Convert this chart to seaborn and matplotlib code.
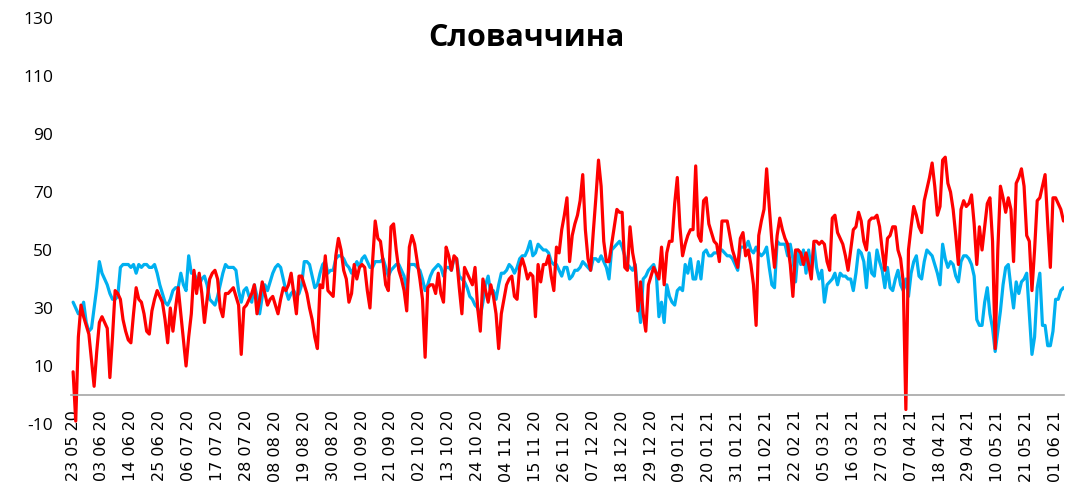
import matplotlib
matplotlib.use("Agg")
import matplotlib.pyplot as plt
import numpy as np
import pandas as pd
import seaborn as sns

# Daily values, 23.05.2020 onwards
start_date = "2020-05-23"

red_values = [
    8, -9, 20, 31, 27, 24, 21, 12, 3, 15,
    25, 27, 25, 23, 6, 20, 36, 35, 33, 26,
    22, 19, 18, 28, 37, 33, 32, 28, 22, 21,
    29, 33, 36, 34, 32, 26, 18, 30, 22, 30,
    37, 28, 19, 10, 20, 28, 43, 35, 42, 35,
    25, 33, 40, 42, 43, 40, 30, 27, 35, 35,
    36, 37, 34, 31, 14, 30, 31, 33, 35, 38,
    28, 33, 39, 35, 31, 33, 34, 31, 28, 33,
    37, 36, 38, 42, 35, 28, 41, 41, 38, 35,
    30, 26, 20, 16, 38, 37, 48, 36, 35, 34,
    48, 54, 50, 43, 40, 32, 35, 45, 40, 44,
    45, 44, 36, 30, 46, 60, 54, 53, 46, 38,
    36, 58, 59, 50, 43, 40, 36, 29, 51, 55,
    52, 46, 40, 33, 13, 37, 38, 38, 35, 42,
    35, 32, 51, 48, 43, 48, 47, 37, 28, 44,
    42, 40, 38, 44, 30, 22, 40, 36, 32, 38,
    34, 28, 16, 28, 33, 38, 40, 41, 34, 33,
    44, 47, 44, 40, 42, 41, 27, 45, 39, 45,
    45, 48, 41, 36, 51, 49, 57, 62, 68, 46,
    55, 59, 62, 67, 76, 57, 47, 43, 56, 68,
    81, 72, 53, 46, 46, 52, 58, 64, 63, 63,
    44, 43, 58, 49, 44, 29, 39, 28, 22, 38,
    41, 44, 42, 40, 51, 38, 49, 53, 53, 66,
    75, 58, 48, 52, 55, 57, 57, 79, 55, 53,
    67, 68, 59, 56, 53, 52, 46, 60, 60, 60,
    55, 50, 47, 44, 54, 56, 48, 50, 45, 38,
    24, 55, 60, 64, 78, 65, 53, 44, 55, 61,
    57, 54, 52, 45, 34, 50, 50, 49, 45, 49,
    45, 40, 53, 53, 52, 53, 52, 46, 43, 61,
    62, 56, 54, 52, 48, 43, 50, 57, 58, 63,
    60, 53, 50, 60, 61, 61, 62, 58, 50, 43,
    54, 55, 58, 58, 50, 47, 39, -5, 50, 58,
    65, 62, 58, 56, 67, 71, 75, 80, 72, 62,
    65, 81, 82, 73, 70, 64, 55, 45, 64, 67,
    65, 66, 69, 59, 45, 58, 50, 58, 66, 68,
    53, 16, 50, 72, 68, 63, 68, 64, 46, 73,
    75, 78, 72, 55, 53, 36, 50, 67, 68, 72,
    76, 59, 44, 68, 68, 66, 64, 60,
]

blue_values = [
    32, 30, 28, 29, 32, 25, 22, 23, 30, 37,
    46, 42, 40, 38, 35, 33, 33, 34, 44, 45,
    45, 45, 44, 45, 42, 45, 44, 45, 45, 44,
    44, 45, 42, 38, 35, 32, 31, 33, 36, 37,
    37, 42, 38, 36, 48, 42, 42, 40, 38, 40,
    41, 38, 33, 32, 31, 34, 38, 42, 45, 44,
    44, 44, 43, 36, 32, 36, 37, 34, 32, 38,
    34, 28, 34, 38, 36, 39, 42, 44, 45, 44,
    40, 36, 33, 35, 36, 34, 35, 38, 46, 46,
    45, 41, 37, 38, 42, 45, 46, 42, 43, 43,
    47, 48, 48, 47, 45, 44, 42, 44, 46, 44,
    47, 48, 46, 44, 44, 46, 46, 46, 47, 44,
    41, 43, 44, 45, 45, 43, 41, 36, 45, 45,
    45, 44, 43, 40, 36, 38, 41, 43, 44, 45,
    44, 41, 44, 44, 43, 47, 47, 41, 40, 39,
    37, 34, 33, 31, 30, 27, 32, 38, 41, 35,
    36, 33, 38, 42, 42, 43, 45, 44, 42, 44,
    47, 48, 48, 50, 53, 48, 49, 52, 51, 50,
    50, 49, 46, 45, 45, 43, 41, 44, 44, 40,
    41, 43, 43, 44, 46, 45, 44, 43, 47, 47,
    46, 48, 46, 44, 40, 50, 51, 52, 53, 51,
    48, 45, 44, 43, 45, 34, 25, 40, 41, 43,
    44, 45, 42, 27, 32, 25, 38, 34, 32, 31,
    36, 37, 36, 45, 42, 47, 40, 40, 46, 40,
    49, 50, 48, 48, 49, 49, 50, 50, 49, 48,
    48, 47, 45, 43, 51, 51, 51, 53, 50, 49,
    51, 49, 48, 49, 51, 44, 38, 37, 53, 52,
    52, 52, 48, 52, 47, 39, 50, 45, 50, 42,
    50, 43, 52, 44, 40, 43, 32, 38, 39, 40,
    42, 38, 42, 41, 41, 40, 40, 36, 42, 50,
    49, 46, 37, 49, 42, 41, 50, 46, 43, 37,
    44, 37, 36, 40, 43, 38, 36, 40, 34, 42,
    46, 48, 41, 40, 46, 50, 49, 48, 45, 42,
    38, 52, 47, 44, 46, 45, 41, 39, 46, 48,
    48, 47, 45, 41, 26, 24, 24, 32, 37, 28,
    23, 15, 22, 29, 38, 44, 45, 37, 30, 39,
    35, 39, 40, 42, 28, 14, 20, 37, 42, 24,
    24, 17, 17, 22, 33, 33, 36, 37,
]

title = "Словаччина"
y_ticks = [-10, 10, 30, 50, 70, 90, 110, 130]
tick_step = 11  # one label every 11 days

dates = pd.date_range(start_date, periods=len(red_values), freq="D")
df = pd.DataFrame({"day": np.arange(len(dates)),
                   "red": red_values,
                   "blue": blue_values})
tick_pos = df["day"][::tick_step]
tick_labels = [d.strftime("%d %m %y") for d in dates[::tick_step]]

sns.set_style("white")
plt.rcParams["font.family"] = ["DejaVu Sans"]
plt.rcParams["text.color"] = "black"

W, H = 1068, 493
fig = plt.figure(figsize=(W / 100, H / 100), dpi=100)
ax = fig.add_axes([71 / W, (H - 424) / H, (1064 - 71) / W, (424 - 18) / H])

sns.lineplot(data=df, x="day", y="blue", color="#00B0F0", lw=2.3, ax=ax)
sns.lineplot(data=df, x="day", y="red", color="#FF0000", lw=2.3, ax=ax)

ax.set_xlim(-0.8, len(dates) - 0.8)
ax.set_ylim(-10, 130)
ax.set_xlabel("")
ax.set_ylabel("")

# y axis: labels only
ax.set_yticks(y_ticks)
ax.set_yticklabels([str(v) for v in y_ticks], family=["Open Sans", "DejaVu Sans"])
ax.tick_params(axis="y", length=0, pad=13, labelsize=12.5, labelcolor="black")

# x axis crosses at zero, labels hang below
for s in ["left", "right", "top"]:
    ax.spines[s].set_visible(False)
ax.spines["bottom"].set_position(("data", 0))
ax.spines["bottom"].set_color("#a6a6a6")
ax.spines["bottom"].set_linewidth(1.2)
ax.set_xticks(tick_pos)
ax.set_xticklabels(tick_labels, rotation=90)
ax.tick_params(axis="x", direction="out", length=4, width=1, color="#a6a6a6",
               pad=7, labelsize=11.5, labelcolor="black")

fig.text(526 / W, 1 - 38 / H, title, ha="center", va="center", color="black",
         fontsize=22, fontweight="bold", family=["Open Sans", "DejaVu Sans"])

fig.savefig("out.png", dpi=100)
